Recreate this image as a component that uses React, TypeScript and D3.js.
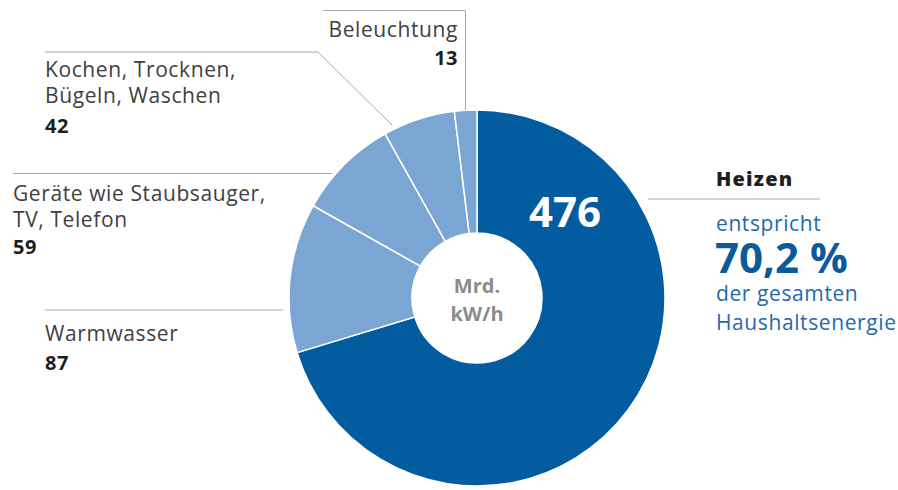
import * as d3 from 'd3';
import React, { useEffect, useRef } from 'react';

// Energy use in households, Mrd. kWh
const categories = ['Heizen', 'Warmwasser', 'Geräte wie Staubsauger, TV, Telefon', 'Kochen, Trocknen, Bügeln, Waschen', 'Beleuchtung'];
const values = [476, 87, 59, 42, 13];
const sliceColors = ['#035c9f', '#7ba6d3', '#7ba6d3', '#7ba6d3', '#7ba6d3'];
const heizenShare = '70,2 %';

const labelLines: string[][] = [
  [],
  ['Warmwasser'],
  ['Geräte wie Staubsauger,', 'TV, Telefon'],
  ['Kochen, Trocknen,', 'Bügeln, Waschen'],
  ['Beleuchtung'],
];

const W = 898;
const H = 490;
const FONT = '"Open Sans", "Noto Sans", sans-serif';

const App: React.FC = () => {
  const svgRef = useRef<SVGSVGElement>(null);

  useEffect(() => {
    if (!svgRef.current) return;
    const svg = d3.select(svgRef.current);
    svg.selectAll('*').remove();

    const cx = 477;
    const cy = 298;
    const outerR = 188;
    const innerR = 65;

    const items = categories.map((c, i) => ({ name: c, value: values[i], color: sliceColors[i] }));

    const pie = d3.pie<typeof items[0]>().value(d => d.value).sort(null);
    const arc = d3.arc<d3.PieArcDatum<typeof items[0]>>().innerRadius(innerR).outerRadius(outerR);
    const arcs = pie(items);

    const g = svg.append('g').attr('transform', `translate(${cx},${cy})`);

    g.selectAll('path')
      .data(arcs)
      .join('path')
      .attr('d', arc)
      .attr('fill', d => d.data.color)
      .attr('stroke', '#fff')
      .attr('stroke-width', 1.5);

    // leader lines (annotation layout)
    const leaders: [number, number][][] = [
      [[648, 199], [820, 199]],
      [[45, 310], [283, 310]],
      [[13, 173.5], [332, 173.5]],
      [[45, 52], [318, 52], [392, 125]],
      [[323, 10.5], [465.5, 10.5], [465.5, 110]],
    ];
    const line = d3.line();
    leaders.forEach(pts => {
      svg.append('path')
        .attr('d', line(pts))
        .attr('fill', 'none')
        .attr('stroke', '#a8a8a8')
        .attr('stroke-width', 1);
    });

    const text = (x: number, y: number, s: string, size: number, weight: number, color: string, anchor = 'start', spacing = 0) =>
      svg.append('text')
        .attr('x', x)
        .attr('y', y)
        .attr('font-family', FONT)
        .attr('font-size', size)
        .attr('font-weight', weight)
        .attr('fill', color)
        .attr('text-anchor', anchor)
        .attr('letter-spacing', spacing)
        .text(s);

    const labelColor = '#404040';
    const valueColor = '#1e1e1e';
    const LS = 21;
    const LSP = 0.6;

    // Left-side labels
    // Warmwasser
    labelLines[1].forEach((s, i) => text(45, 341 + i * 25, s, LS, 400, labelColor, 'start', LSP));
    text(45, 370, String(values[1]), 20, 700, valueColor, 'start', 0.5);
    // Geräte
    labelLines[2].forEach((s, i) => text(13, 201 + i * 26, s, LS, 400, labelColor, 'start', LSP));
    text(13, 254, String(values[2]), 20, 700, valueColor, 'start', 0.5);
    // Kochen
    labelLines[3].forEach((s, i) => text(45, 77 + i * 26, s, LS, 400, labelColor, 'start', LSP));
    text(45, 133, String(values[3]), 20, 700, valueColor, 'start', 0.5);
    // Beleuchtung
    labelLines[4].forEach((s, i) => text(458, 37 + i * 25, s, LS, 400, labelColor, 'end', LSP));
    text(458, 65, String(values[4]), 20, 700, valueColor, 'end', 0.5);

    // Heizen block
    const blue = '#2469ab';
    text(716, 186, categories[0], 20, 800, valueColor, 'start', 1.2);
    text(716, 231, 'entspricht', LS, 400, blue, 'start', LSP);
    text(715, 273, heizenShare, 42, 700, '#0b5a9c');
    text(716, 301, 'der gesamten', LS, 400, blue, 'start', LSP);
    text(716, 330, 'Haushaltsenergie', LS, 400, blue, 'start', LSP);

    // value inside the big slice
    text(565, 227, String(values[0]), 42, 700, '#ffffff', 'middle');

    // center
    text(cx, 293, 'Mrd.', 20, 700, '#8c8c8c', 'middle');
    text(cx, 321, 'kW/h', 20, 700, '#8c8c8c', 'middle');
  }, []);

  return (
    <svg
      ref={svgRef}
      width={W}
      height={H}
      style={{ position: 'absolute', left: 0, top: 0, background: '#fff' }}
    />
  );
};

export default App;
